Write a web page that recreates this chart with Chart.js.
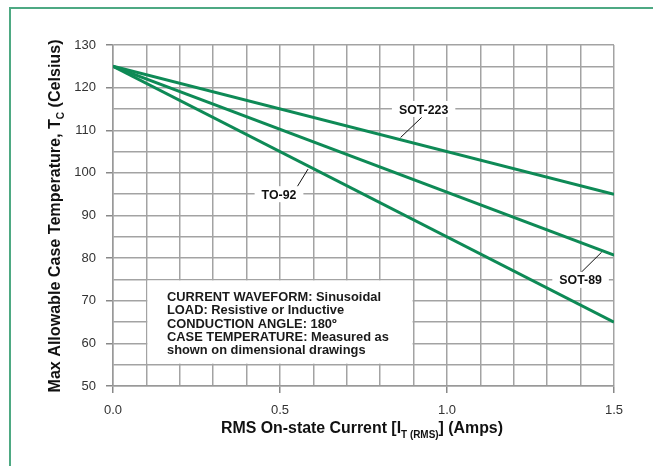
<!DOCTYPE html>
<html>
<head>
<meta charset="utf-8">
<script src="https://cdn.jsdelivr.net/npm/chart.js@4"></script>
<style>
body{margin:0;background:#fff;overflow:hidden}
#box{position:absolute;left:0;top:0;width:653px;height:466px}
#frame{position:absolute;left:9px;top:7px;width:700px;height:500px;border-top:2px solid #4ea983;border-left:2px solid #4ea983}
</style>
</head>
<body>
<div id="box"><canvas id="myChart" width="653" height="466"></canvas></div>
<div id="frame"></div>
<script>
// valores
const corrente = [0, 1.5]
const sot223 = [125, 95]
const sot89 = [125, 80.7]
const to92 = [125, 65]
const ticksX = [0, 0.5, 1.0, 1.5]
const ticksY = [50, 60, 70, 80, 90, 100, 110, 120, 130]
const nomes = ['SOT-223', 'SOT-89', 'TO-92']
const notas = [
	'CURRENT WAVEFORM: Sinusoidal',
	'LOAD: Resistive or Inductive',
	'CONDUCTION ANGLE: 180\u00ba',
	'CASE TEMPERATURE: Measured as',
	'shown on dimensional drawings'
]

const verde = '#0e8a56'
const fonte = '"Liberation Sans", Arial, sans-serif'

function pontos(ys){
	return corrente.map((x,i)=>({x:x, y:ys[i]}))
}
function temTick(lista, v){
	return lista.some(t => Math.abs(t - v) < 1e-6)
}

// rotulos das curvas: centro do texto e linha guia (em unidades do grafico)
const rotulos = [
	{texto: nomes[0], x: 0.93, y: 115, de: [0.861, 108.3], ate: [0.924, 113.0]},
	{texto: nomes[1], x: 1.40, y: 74.9, de: [1.463, 81.4], ate: [1.401, 76.6]},
	{texto: nomes[2], x: 0.497, y: 95.0, de: [0.584, 100.9], ate: [0.548, 96.3]}
]

function textoRico(ctx, partes, cx, cy, largura){
	let total = 0
	partes.forEach(p => { ctx.font = p.font; p.w = ctx.measureText(p.t).width; total += p.w })
	const s = largura / total
	ctx.save()
	ctx.translate(cx, cy)
	ctx.scale(s, 1)
	let x = -total/2
	ctx.textBaseline = 'alphabetic'
	ctx.textAlign = 'left'
	partes.forEach(p => {
		ctx.font = p.font
		ctx.fillText(p.t, x, p.dy || 0)
		x += p.w
	})
	ctx.restore()
}

const extras = {
	id: 'extras',
	beforeDatasetsDraw(chart){
		const ctx = chart.ctx
		const sx = chart.scales.x, sy = chart.scales.y
		// caixa branca das notas
		const x0 = sx.getPixelForValue(0.1) + 1, x1 = sx.getPixelForValue(0.9) - 1
		const y0 = sy.getPixelForValue(75) + 1, y1 = sy.getPixelForValue(55) - 1
		ctx.save()
		ctx.fillStyle = '#fff'
		ctx.fillRect(x0, y0, x1 - x0, y1 - y0)
		ctx.fillStyle = '#1a1a1a'
		ctx.font = 'bold 13px ' + fonte
		const s = Math.min(1, 214 / ctx.measureText(notas[0]).width)
		ctx.textBaseline = 'alphabetic'
		notas.forEach((linha, i) => {
			ctx.save()
			ctx.translate(167, 301 + i * 13.3)
			ctx.scale(s, 1)
			ctx.fillText(linha, 0, 0)
			ctx.restore()
		})
		ctx.restore()
	},
	afterDatasetsDraw(chart){
		const ctx = chart.ctx
		const sx = chart.scales.x, sy = chart.scales.y
		ctx.save()
		rotulos.forEach(r => {
			ctx.strokeStyle = '#111'
			ctx.lineWidth = 1
			ctx.beginPath()
			ctx.moveTo(sx.getPixelForValue(r.de[0]), sy.getPixelForValue(r.de[1]))
			ctx.lineTo(sx.getPixelForValue(r.ate[0]), sy.getPixelForValue(r.ate[1]))
			ctx.stroke()
			const cx = sx.getPixelForValue(r.x), cy = sy.getPixelForValue(r.y)
			ctx.font = 'bold 13px ' + fonte
			const w = ctx.measureText(r.texto).width * 0.95
			ctx.fillStyle = '#fff'
			ctx.fillRect(cx - w/2 - 7, cy - 8, w + 14, 16)
			ctx.fillStyle = '#111'
			ctx.save()
			ctx.translate(cx, cy)
			ctx.scale(0.95, 1)
			ctx.textAlign = 'center'
			ctx.textBaseline = 'middle'
			ctx.fillText(r.texto, 0, 1)
			ctx.restore()
		})
		ctx.restore()
	},
	afterDraw(chart){
		const ctx = chart.ctx
		ctx.save()
		ctx.fillStyle = '#111'
		// titulo eixo x
		textoRico(ctx, [
			{t: 'RMS On-state Current [I', font: 'bold 16px ' + fonte},
			{t: 'T (RMS)', font: 'bold 10px ' + fonte, dy: 5},
			{t: '] (Amps)', font: 'bold 16px ' + fonte}
		], 362, 433, 282)
		// titulo eixo y
		ctx.save()
		ctx.translate(60, 216)
		ctx.rotate(-Math.PI/2)
		textoRico(ctx, [
			{t: 'Max Allowable Case Temperature, T', font: 'bold 16px ' + fonte},
			{t: 'C', font: 'bold 10px ' + fonte, dy: 4},
			{t: ' (Celsius)', font: 'bold 16px ' + fonte}
		], 0, 0, 353)
		ctx.restore()
		ctx.restore()
	}
}

function linha(nome, ys){
	return {
		label: nome,
		data: pontos(ys),
		showLine: true,
		fill: false,
		borderColor: verde,
		borderWidth: 3,
		pointRadius: 0,
		tension: 0
	}
}

const ctx = document.getElementById('myChart')
const grafico = new Chart(ctx.getContext('2d'), {
	type: 'scatter',
	data: {
		datasets: [linha(nomes[0], sot223), linha(nomes[1], sot89), linha(nomes[2], to92)]
	},
	options: {
		responsive: false,
		animation: false,
		devicePixelRatio: 1,
		layout: {padding: {left: 0, right: 39, top: 45, bottom: 0}},
		plugins: {legend: {display: false}, tooltip: {enabled: false}},
		scales: {
			x: {
				type: 'linear', min: 0, max: 1.5,
				afterFit: s => { s.height = 80 },
				border: {color: '#999', width: 1.5},
				grid: {
					color: '#a3a3a3', lineWidth: 1.5, tickLength: 7,
					tickColor: c => temTick(ticksX, c.tick.value) ? '#888' : 'rgba(0,0,0,0)'
				},
				ticks: {
					stepSize: 0.1, autoSkip: false, maxRotation: 0, padding: 10,
					color: '#333', font: {family: fonte, size: 13},
					callback: v => temTick(ticksX, v) ? v.toFixed(1) : ''
				}
			},
			y: {
				min: 50, max: 130,
				afterFit: s => { s.width = 113 },
				border: {color: '#999', width: 1.5},
				grid: {
					color: '#a3a3a3', lineWidth: 1.5, tickLength: 7,
					tickColor: c => temTick(ticksY, c.tick.value) ? '#888' : 'rgba(0,0,0,0)'
				},
				ticks: {
					stepSize: 5, autoSkip: false, padding: 10,
					color: '#333', font: {family: fonte, size: 13},
					callback: v => temTick(ticksY, v) ? String(v) : ''
				}
			}
		}
	},
	plugins: [extras]
})
</script>
</body>
</html>
